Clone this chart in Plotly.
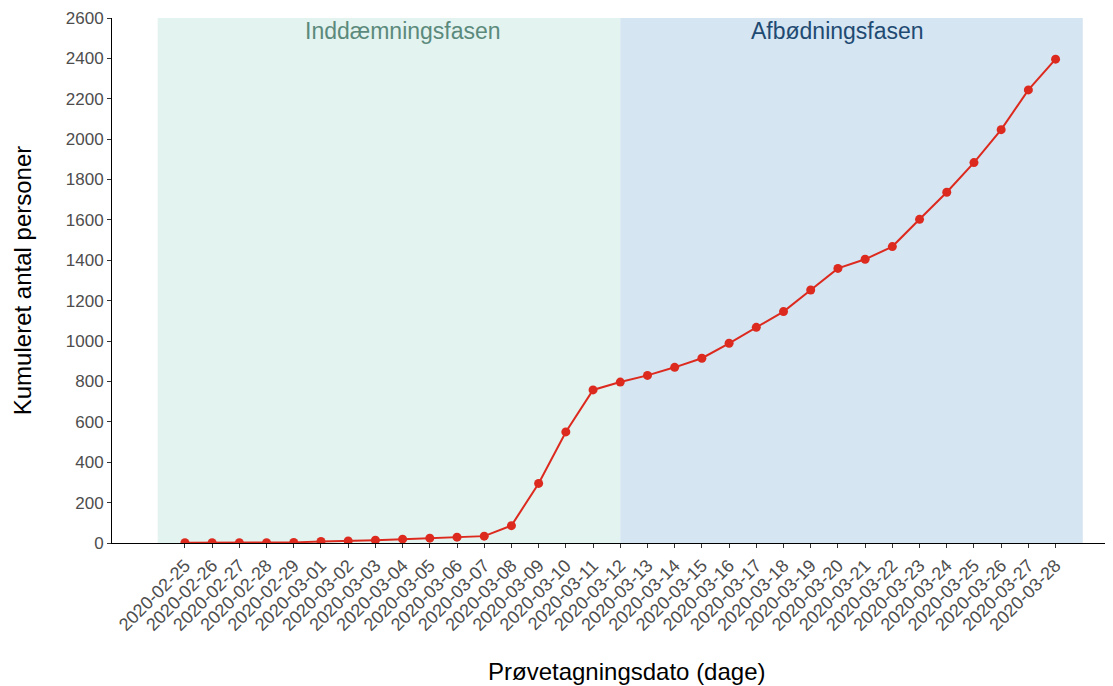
import plotly.graph_objects as go
import pandas as pd

# Kumulerede tilfælde pr. prøvetagningsdato
datoer = pd.date_range("2020-02-25", "2020-03-28", freq="D")
kumuleret = [1, 1, 1, 1, 3, 8, 10, 14, 19, 24, 29, 34, 86, 295, 550,
             758, 797, 830, 870, 915, 989, 1068, 1146, 1253, 1360, 1405,
             1468, 1603, 1737, 1884, 2047, 2244, 2396]

# Faser (start, slut, navn, tekstplacering)
faser = ["Inddæmningsfasen", "Afbødningsfasen"]
fase_start = ["2020-02-24", "2020-03-12"]
fase_slut = ["2020-03-12", "2020-03-29"]
fase_tekst_x = ["2020-03-04", "2020-03-20"]
fase_farve = ["#e3f3f0", "#d5e5f2"]
fase_tekstfarve = ["#5b8a7c", "#1f4a72"]

fig = go.Figure()

for i in range(len(faser)):
    fig.add_vrect(x0=fase_start[i], x1=fase_slut[i], fillcolor=fase_farve[i],
                  opacity=1, line_width=0, layer="below")
    fig.add_annotation(x=fase_tekst_x[i], y=2535, text=faser[i], showarrow=False,
                       font=dict(size=23, color=fase_tekstfarve[i]))

fig.add_trace(go.Scatter(
    x=datoer, y=kumuleret, mode="lines+markers",
    line=dict(color="#dd2a1f", width=2),
    marker=dict(color="#dd2a1f", size=9),
    showlegend=False,
))

# x-aksens titel (centreret som i originalen)
fig.add_annotation(x=0.516, y=-0.2457, xref="paper", yref="paper",
                   text="Prøvetagningsdato (dage)", showarrow=False,
                   yanchor="middle", font=dict(size=24, color="black"))

fig.update_layout(
    width=1105, height=678,
    margin=dict(l=104, r=3, t=10, b=143),
    plot_bgcolor="white", paper_bgcolor="white",
    font=dict(family="Liberation Sans, Arial", size=17, color="#4d4d4d"),
)
fig.update_xaxes(
    range=["2020-02-22 07:40", "2020-03-30"],
    tickmode="array", tickvals=datoer, ticktext=[d.strftime("%Y-%m-%d") for d in datoer],
    tickangle=-45, ticks="outside", ticklen=4, tickcolor="#333",
    tickfont=dict(size=18),
    showline=True, linecolor="black", linewidth=1, showgrid=False, zeroline=False,
    automargin=False,
)
fig.update_yaxes(
    range=[0, 2600], dtick=200, ticks="outside", ticklen=4, tickcolor="#333",
    showline=True, linecolor="black", linewidth=1, showgrid=False, zeroline=False,
    automargin=False,
    title=dict(text="Kumuleret antal personer", font=dict(size=24, color="black"), standoff=27),
)

fig.write_html("out.html")
